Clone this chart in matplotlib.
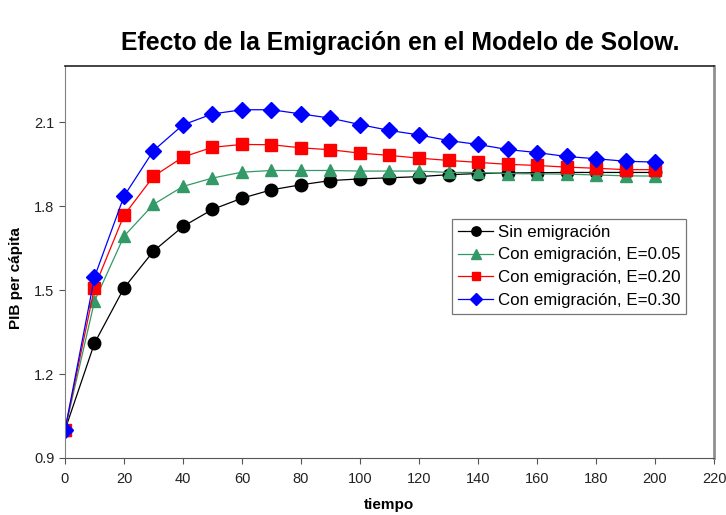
import matplotlib.pyplot as plt

plt.rcParams['font.family'] = ['Liberation Sans', 'DejaVu Sans']

tiempo = [0, 10, 20, 30, 40, 50, 60, 70, 80, 90, 100,
          110, 120, 130, 140, 150, 160, 170, 180, 190, 200]

sin_emig = [1.00, 1.31, 1.507, 1.639, 1.727, 1.788, 1.828, 1.858, 1.876, 1.891, 1.897,
            1.901, 1.905, 1.912, 1.916, 1.918, 1.919, 1.920, 1.920, 1.920, 1.920]
emig_005 = [1.00, 1.46, 1.692, 1.806, 1.870, 1.900, 1.921, 1.927, 1.927, 1.927, 1.925,
            1.925, 1.925, 1.920, 1.920, 1.916, 1.915, 1.914, 1.911, 1.908, 1.907]
emig_020 = [1.00, 1.509, 1.767, 1.906, 1.975, 2.010, 2.020, 2.019, 2.008, 2.001, 1.989,
            1.981, 1.971, 1.963, 1.956, 1.949, 1.945, 1.939, 1.935, 1.930, 1.930]
emig_030 = [1.00, 1.546, 1.835, 1.998, 2.090, 2.129, 2.144, 2.144, 2.129, 2.114, 2.091,
            2.070, 2.054, 2.034, 2.020, 2.002, 1.991, 1.977, 1.969, 1.960, 1.957]

fig = plt.figure(figsize=(7.26, 5.15), dpi=100)
ax = fig.add_axes([0.0895, 0.1107, 0.894, 0.761])

ax.plot(tiempo, sin_emig, color='black', lw=0.9, marker='o', ms=9,
        label='Sin emigración')
ax.plot(tiempo, emig_005, color='#339966', lw=0.9, marker='^', ms=9,
        label='Con emigración, E=0.05')
ax.plot(tiempo, emig_020, color='#ff0000', lw=0.9, marker='s', ms=8,
        label='Con emigración, E=0.20')
ax.plot(tiempo, emig_030, color='#0000ff', lw=0.9, marker='D', ms=8,
        label='Con emigración, E=0.30')

ax.set_xlim(0, 220)
ax.set_ylim(0.9, 2.3)
ax.set_xticks(range(0, 221, 20))
ax.set_yticks([0.9, 1.2, 1.5, 1.8, 2.1])
ax.tick_params(direction='out', length=4, labelsize=10.5, colors='#555555',
               labelcolor='#222222')
ax.tick_params(axis='x', pad=6)

ax.spines['top'].set_color('#222222')
ax.spines['top'].set_linewidth(1.2)
ax.spines['right'].set_color('#909090')
ax.spines['right'].set_linewidth(2)
ax.spines['left'].set_color('#808080')
ax.spines['bottom'].set_color('#555555')

ax.set_xlabel('tiempo', fontsize=11, fontweight='bold')
ax.xaxis.set_label_coords(0.5, -0.103)
ax.set_ylabel('PIB per cápita', fontsize=11, fontweight='bold')
ax.yaxis.set_label_coords(-0.065, 0.46)

fig.suptitle('Efecto de la Emigración en el Modelo de Solow.', fontsize=17.8,
             fontweight='bold', x=0.551, y=0.94)

leg = ax.legend(loc='upper left', bbox_to_anchor=(0.596, 0.61), fontsize=12.2,
                frameon=True, fancybox=False, edgecolor='#555555',
                handlelength=2.1, borderaxespad=0, labelspacing=0.45,
                handletextpad=0.25, borderpad=0.35, markerscale=0.75)
leg.get_frame().set_linewidth(0.9)

fig.savefig('out.png', dpi=100)
